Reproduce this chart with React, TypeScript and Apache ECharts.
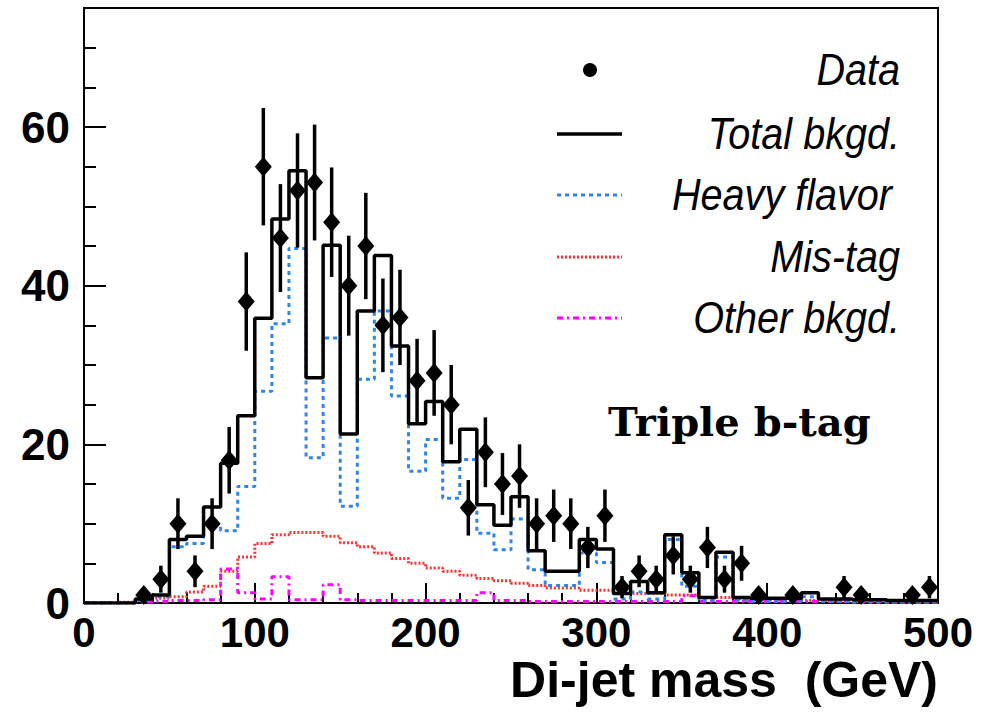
import React, { useEffect, useRef } from "react";
import * as echarts from "echarts";

// Histogram bins (lower edges, GeV), 10 GeV wide, upper edge 500
const binLow = [0, 10, 20, 30, 40, 50, 60, 70, 80, 90, 100, 110, 120, 130, 140, 150, 160, 170, 180, 190, 200, 210, 220, 230, 240, 250, 260, 270, 280, 290, 300, 310, 320, 330, 340, 350, 360, 370, 380, 390, 400, 410, 420, 430, 440, 450, 460, 470, 480, 490];
const histUpper = 500;

const totalBkgd = [0, 0, 0, 0.5, 1.0, 8.0, 8.4, 12.1, 17.6, 23.6, 35.9, 48.4, 54.5, 28.4, 45.1, 21.3, 36.8, 43.8, 32.4, 22.6, 25.4, 17.8, 21.9, 12.4, 9.8, 13.4, 6.6, 4.0, 4.0, 8.0, 6.8, 1.2, 2.7, 1.3, 8.6, 3.8, 0.7, 6.4, 0.7, 0.6, 0.6, 0.6, 1.3, 0.5, 0.5, 0.4, 0.4, 0.3, 0.3, 0.3];
const heavyFlavor = [0, 0, 0, 0.3, 0.8, 7.1, 7.5, 9.8, 9.1, 14.7, 26.7, 35.2, 44.7, 18.3, 33.4, 12.2, 28.2, 36.8, 26.1, 16.6, 20.6, 13.2, 18.1, 8.8, 6.7, 10.6, 4.2, 2.2, 2.2, 6.3, 5.1, 0.5, 1.4, 0.5, 8.0, 2.1, 0.3, 5.8, 0.3, 0.2, 0.2, 0.2, 0.8, 0.2, 0.2, 0.1, 0.1, 0.1, 0.1, 0.1];
const misTag = [0, 0, 0.1, 0.3, 0.6, 0.8, 1.4, 2.1, 4.0, 5.8, 7.5, 8.6, 8.9, 8.9, 8.4, 7.6, 7.1, 6.3, 5.6, 5.0, 4.4, 4.0, 3.5, 3.1, 2.8, 2.5, 2.2, 1.9, 1.9, 1.6, 1.6, 1.3, 1.2, 1.2, 1.0, 1.0, 0.7, 0.7, 0.5, 0.4, 0.4, 0.3, 0.3, 0.3, 0.2, 0.2, 0.2, 0.1, 0.1, 0.1];
const otherBkgd = [0, 0, 0, 0.1, 0.2, 0.3, 0.3, 0.4, 4.3, 1.3, 0.5, 3.3, 0.4, 0.4, 2.3, 0.4, 0.3, 0.3, 0.3, 0.3, 0.3, 0.3, 0.3, 1.3, 0.3, 0.3, 0.2, 0.2, 0.2, 0.2, 0.2, 0.2, 0.2, 0.2, 0.2, 0.9, 0.2, 0.2, 0.2, 0.2, 0.2, 0.2, 0.2, 0.2, 0.2, 0.2, 0.2, 0.2, 0.2, 0.2];

// Data points (bin centres, GeV), counts and error bars
const dataMass = [35, 45, 55, 65, 75, 85, 95, 105, 115, 125, 135, 145, 155, 165, 175, 185, 195, 205, 215, 225, 235, 245, 255, 265, 275, 285, 295, 305, 315, 325, 335, 345, 355, 365, 375, 385, 395, 415, 445, 455, 485, 495];
const dataCounts = [1, 3, 10, 4, 10, 18, 38, 55, 46, 52, 53, 48, 40, 45, 35, 36, 28, 29, 25, 12, 19, 15, 16, 10, 11, 10, 7, 11, 2, 4, 3, 6, 3, 7, 3, 5, 1, 1, 2, 1, 1, 2];
const dataErr = [1.0, 1.7, 3.2, 2.0, 3.2, 4.2, 6.2, 7.4, 6.8, 7.2, 7.3, 6.9, 6.3, 6.7, 5.9, 6.0, 5.3, 5.4, 5.0, 3.5, 4.4, 3.9, 4.0, 3.2, 3.3, 3.2, 2.6, 3.3, 1.4, 2.0, 1.7, 2.4, 1.7, 2.6, 1.7, 2.2, 1.0, 1.0, 1.4, 1.0, 1.0, 1.4];

const yTickLabels = [0, 20, 40, 60];
const legendLabels = ["Data", "Total bkgd.", "Heavy flavor", "Mis-tag", "Other bkgd."];
const xAxisTitle = "Di-jet mass  (GeV)";
const panelLabel = "Triple b-tag";

const BLUE = "#2c86e8";
const RED = "#ff3030";
const MAGENTA = "#ff00ff";

function stepPoints(vals: number[]) {
  const pts = binLow.map((x, i) => [x, vals[i]]);
  pts.push([histUpper, vals[vals.length - 1]]);
  return pts;
}

export default function App() {
  const ref = useRef<HTMLDivElement>(null);
  useEffect(() => {
    if (!ref.current) return;
    const chart = echarts.init(ref.current, null, { renderer: "svg" });
    const sans = '"Liberation Sans", Arial, Helvetica, sans-serif';
    const legX1 = 557, legX2 = 622, legTextX = 900;
    const legY = [70, 134, 195, 257, 318];
    const legendFont = `italic 44px ${sans}`;
    const option: any = {
      animation: false,
      backgroundColor: "#ffffff",
      grid: {
        left: 84, right: 44, top: 8, bottom: 110,
        show: true, borderColor: "#000", borderWidth: 2, backgroundColor: "transparent",
      },
      xAxis: {
        type: "value", min: 0, max: 500, interval: 100,
        axisLine: { show: true, lineStyle: { color: "#000", width: 2 } },
        axisTick: { show: true, inside: true, length: 20, lineStyle: { color: "#000", width: 2 } },
        minorTick: { show: true, splitNumber: 5, length: 10, lineStyle: { color: "#000", width: 2 } },
        splitLine: { show: false },
        axisLabel: { margin: 8, color: "#000", fontSize: 42, fontWeight: "bold", fontFamily: sans },
        name: xAxisTitle,
        nameLocation: "end",
        nameGap: 0,
        nameTextStyle: {
          color: "#000", fontSize: 50, fontWeight: "bold", fontFamily: sans,
          align: "right", verticalAlign: "top", padding: [52, 0, 0, 0],
        },
      },
      yAxis: [
        {
          type: "value", min: 0, max: 75, interval: 5,
          axisLine: { show: true, lineStyle: { color: "#000", width: 2 } },
          axisTick: { show: true, inside: true, length: 12, lineStyle: { color: "#000", width: 2 } },
          splitLine: { show: false },
          axisLabel: {
            margin: 14, color: "#000", fontSize: 44, fontWeight: "bold", fontFamily: sans,
            formatter: (v: number) => (yTickLabels.indexOf(v) >= 0 ? String(v) : ""),
          },
        },
        {
          type: "value", min: 0, max: 75, position: "left", offset: 0,
          axisLine: { show: false },
          axisTick: { show: true, inside: true, length: 22, customValues: yTickLabels, lineStyle: { color: "#000", width: 2 } },
          axisLabel: { show: false },
          splitLine: { show: false },
        },
      ],
      series: [
        {
          name: "Mis-tag", type: "line", step: "end", showSymbol: false, z: 2,
          data: stepPoints(misTag),
          lineStyle: { color: RED, width: 3, type: [2, 2] },
        },
        {
          name: "Other bkgd.", type: "line", step: "end", showSymbol: false, z: 2,
          data: stepPoints(otherBkgd),
          lineStyle: { color: MAGENTA, width: 3, type: [6, 4, 2, 4] },
        },
        {
          name: "Heavy flavor", type: "line", step: "end", showSymbol: false, z: 3,
          data: stepPoints(heavyFlavor),
          lineStyle: { color: BLUE, width: 3, type: [4, 4] },
        },
        {
          name: "Total bkgd.", type: "line", step: "end", showSymbol: false, z: 4,
          data: stepPoints(totalBkgd),
          lineStyle: { color: "#000", width: 3.5, type: "solid" },
        },
        {
          name: "Data errors", type: "custom", z: 5,
          data: dataMass.map((m, i) => [m, dataCounts[i] - dataErr[i], dataCounts[i] + dataErr[i]]),
          encode: { x: 0, y: [1, 2] },
          renderItem: (params: any, api: any) => {
            const lo = api.coord([api.value(0), api.value(1)]);
            const hi = api.coord([api.value(0), api.value(2)]);
            return {
              type: "line",
              shape: { x1: lo[0], y1: lo[1], x2: hi[0], y2: hi[1] },
              style: { stroke: "#000", lineWidth: 3.5 },
            };
          },
        },
        {
          name: "Data", type: "scatter", z: 6,
          symbol: "diamond", symbolSize: [17, 20],
          itemStyle: { color: "#000", opacity: 1 },
          data: dataMass.map((m, i) => [m, dataCounts[i]]),
        },
      ],
      graphic: [
        { type: "circle", shape: { cx: 590, cy: legY[0], r: 7 }, style: { fill: "#000" } },
        { type: "line", shape: { x1: legX1, y1: legY[1], x2: legX2, y2: legY[1] }, style: { stroke: "#000", lineWidth: 3.5 } },
        { type: "line", shape: { x1: legX1, y1: legY[2], x2: legX2, y2: legY[2] }, style: { stroke: BLUE, lineWidth: 3, lineDash: [4, 4] } },
        { type: "line", shape: { x1: legX1, y1: legY[3], x2: legX2, y2: legY[3] }, style: { stroke: RED, lineWidth: 3, lineDash: [2, 2] } },
        { type: "line", shape: { x1: legX1, y1: legY[4], x2: legX2, y2: legY[4] }, style: { stroke: MAGENTA, lineWidth: 3, lineDash: [6, 4, 2, 4] } },
        ...legendLabels.map((t, i) => ({
          type: "text",
          x: i === 2 ? legTextX - 8 : legTextX,
          y: legY[i],
          scaleX: 0.9,
          style: { text: t, font: legendFont, fill: "#000", align: "right", verticalAlign: "middle" },
        })),
        {
          type: "text", x: 608, y: 421,
          style: { text: panelLabel, font: 'bold 40px "DejaVu Serif", serif', fill: "#000", align: "left", verticalAlign: "middle" },
        },
      ],
    };
    chart.setOption(option);
    return () => chart.dispose();
  }, []);
  return (
    <div
      ref={ref}
      style={{ position: "fixed", left: 0, top: 0, width: 982, height: 713, background: "#fff" }}
    />
  );
}
